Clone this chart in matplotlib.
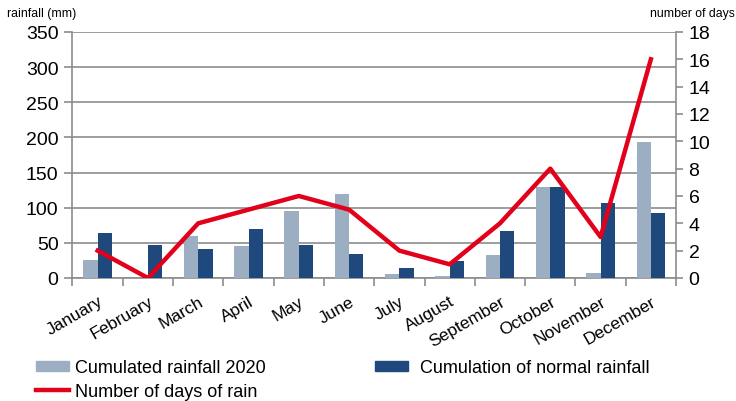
import numpy as np
import matplotlib
matplotlib.use("Agg")
import matplotlib.pyplot as plt
from matplotlib import font_manager
from matplotlib.patches import Patch
from matplotlib.lines import Line2D

months = ["January", "February", "March", "April", "May", "June", "July",
          "August", "September", "October", "November", "December"]
rain_2020 = [25, 0, 60, 45, 95, 119, 5, 3, 32, 129, 7, 194]
rain_normal = [64, 47, 41, 70, 47, 34, 14, 24, 67, 130, 106, 93]
rain_days = [2, 0, 4, 5, 6, 5, 2, 1, 4, 8, 3, 16]

names = {f.name for f in font_manager.fontManager.ttflist}
main_font = "Liberation Sans" if "Liberation Sans" in names else "DejaVu Sans"
plt.rcParams["font.family"] = [main_font, "DejaVu Sans"]

c_light = "#9cafc2"
c_dark = "#1f497d"
c_red = "#e2001a"
c_grid = "#8c8c8c"

fig = plt.figure(figsize=(7.36, 4.02), dpi=100)
ax = fig.add_axes([0.0985, 0.306, 0.82, 0.612])
ax2 = ax.twinx()

x = np.arange(len(months))
w = 0.285
ax.bar(x - w / 2, rain_2020, w, color=c_light, zorder=3)
ax.bar(x + w / 2, rain_normal, w, color=c_dark, zorder=3)

ax.set_xlim(-0.5, len(months) - 0.5)
ax.set_ylim(0, 350)
ax.set_yticks(range(0, 351, 50))
ax.grid(axis="y", color=c_grid, linewidth=1.2, zorder=0)
ax.set_axisbelow(True)

ax2.plot(x, rain_days, color=c_red, linewidth=3.2, zorder=5)
ax2.set_ylim(0, 18)
ax2.set_yticks(range(0, 19, 2))

for a in (ax, ax2):
    a.spines["top"].set_visible(False)
    for s in ("left", "right", "bottom"):
        a.spines[s].set_color(c_grid)
        a.spines[s].set_linewidth(1.2)
ax.spines["right"].set_visible(False)
ax2.spines["left"].set_visible(False)
ax2.spines["bottom"].set_visible(False)

ax.tick_params(axis="y", labelsize=14, length=6, width=1.2, color=c_grid, pad=4)
ax2.tick_params(axis="y", labelsize=14, length=5, width=1.2, color=c_grid, pad=4)

# category boundary ticks on the x axis
ax.set_xticks(np.arange(-0.5, len(months), 1.0))
ax.set_xticklabels([])
ax.tick_params(axis="x", length=6, width=1.2, color=c_grid, direction="out")
ax.set_xticks(x, minor=True)
ax.set_xticklabels(months, minor=True, rotation=30, ha="right",
                   rotation_mode="anchor", fontsize=12.5)
ax.tick_params(axis="x", which="minor", length=0, pad=11)

fig.text(0.010, 0.965, "rainfall (mm)", fontsize=8.8, ha="left", va="center")
fig.text(0.999, 0.965, "number of days", fontsize=8.8, ha="right", va="center")

leg_kw = dict(frameon=False, prop={"size": 13}, borderpad=0, borderaxespad=0,
              handlelength=1.85, handleheight=0.5, labelspacing=0.35)
leg1 = fig.legend([Patch(color=c_light), Line2D([], [], color=c_red, linewidth=3.2)],
                  ["Cumulated rainfall 2020", "Number of days of rain"],
                  loc="upper left", bbox_to_anchor=(0.049, 0.104),
                  handletextpad=0.3, **leg_kw)
leg2 = fig.legend([Patch(color=c_dark)], ["Cumulation of normal rainfall"],
                  loc="upper left", bbox_to_anchor=(0.5095, 0.104),
                  handletextpad=0.65, **leg_kw)

fig.savefig("out.png", dpi=100, facecolor="white")
